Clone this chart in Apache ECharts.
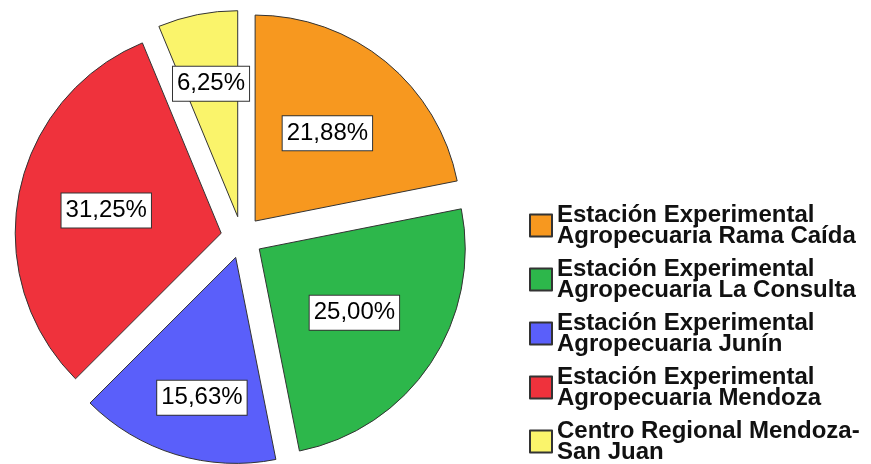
<!DOCTYPE html>
<html>
<head>
<meta charset="utf-8">
<script src="https://cdn.jsdelivr.net/npm/echarts@6/dist/echarts.min.js"></script>
<style>
html,body{margin:0;padding:0;background:#fff;}
#chart{width:871px;height:464px;}
</style>
</head>
<body>
<div id="chart"></div>
<script>
// Data
var categories = [
  'Estación Experimental\nAgropecuaria Rama Caída',
  'Estación Experimental\nAgropecuaria La Consulta',
  'Estación Experimental\nAgropecuaria Junín',
  'Estación Experimental\nAgropecuaria Mendoza',
  'Centro Regional Mendoza-\nSan Juan'
];
var percents = [21.88, 25.00, 15.63, 31.25, 6.25];
var colors = ['#F7981F', '#2DB74B', '#5A5FFA', '#EF323C', '#FAF46B'];
// label nudges (px) from the default inside position
var labelDx = [5, 7, -3, -11, -6];
var labelDy = [-6, 5, 39, -2, -29];

var data = percents.map(function (v, i) {
  return {
    name: categories[i],
    value: v,
    selected: true,
    itemStyle: { color: colors[i] }
  };
});

var chart = echarts.init(document.getElementById('chart'), null, { renderer: 'canvas' });
chart.setOption({
  backgroundColor: '#ffffff',
  animation: false,
  legend: {
    orient: 'vertical',
    left: 529,
    top: 203,
    height: 300,
    padding: 0,
    itemWidth: 22,
    itemHeight: 22,
    itemGap: 9,
    icon: 'rect',
    selectedMode: false,
    textStyle: {
      fontFamily: 'Liberation Sans',
      fontWeight: 'bold',
      fontSize: 24,
      lineHeight: 21,
      color: '#111'
    },
    data: categories
  },
  series: [{
    type: 'pie',
    center: [241.8, 237.3],
    radius: [0, 206],
    startAngle: 90,
    clockwise: true,
    selectedMode: 'multiple',
    selectedOffset: 21,
    avoidLabelOverlap: false,
    emphasis: { disabled: true },
    itemStyle: { borderColor: '#333', borderWidth: 1 },
    select: { itemStyle: { borderColor: '#333', borderWidth: 1 } },
    label: {
      show: true,
      position: 'inside',
      fontFamily: 'Liberation Sans',
      fontSize: 24,
      lineHeight: 25,
      color: '#000',
      backgroundColor: '#fff',
      borderColor: '#333',
      borderWidth: 1,
      padding: [5, 4, 4, 4],
      formatter: function (p) {
        return p.value.toFixed(2).replace('.', ',') + '%';
      }
    },
    labelLayout: function (p) {
      return { dx: labelDx[p.dataIndex], dy: labelDy[p.dataIndex] };
    },
    labelLine: { show: false },
    data: data
  }]
});
</script>
</body>
</html>
